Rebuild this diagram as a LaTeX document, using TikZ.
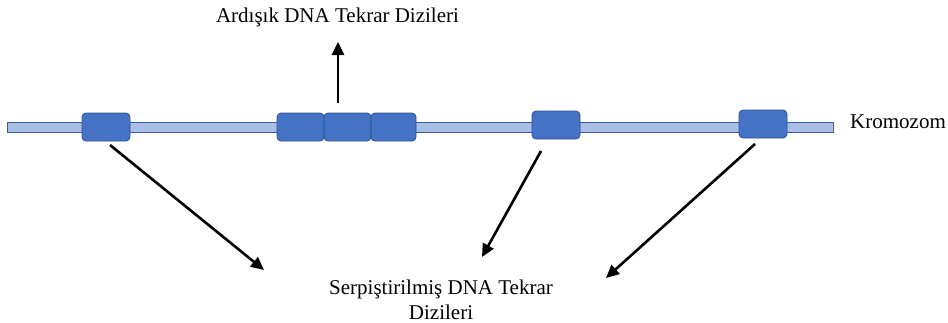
\documentclass[tikz,border=0pt]{standalone}
\usepackage{fontspec}
\setmainfont{Liberation Serif}
\usetikzlibrary{arrows.meta}
\definecolor{barfill}{HTML}{A9BFE6}
\definecolor{barline}{HTML}{3A5FA8}
\definecolor{blockfill}{HTML}{4472C4}
\definecolor{blockline}{HTML}{2F528F}
\begin{document}
\begin{tikzpicture}[x=1pt,y=-1pt,
  block/.style={draw=blockline,line width=0.8pt,fill=blockfill,rounded corners=4pt,minimum width=48pt,minimum height=28pt,inner sep=0pt},
  lbl/.style={font=\fontsize{21}{25}\selectfont,inner sep=0pt,align=center},
  arr/.style={-{Triangle[length=13pt,width=12pt]},line width=2.6pt,black}]
\useasboundingbox (0,0) rectangle (948,322);
\filldraw[fill=barfill,draw=barline,line width=0.8pt] (7,122) rectangle (833,132);
\node[block] (b1) at (106,127) {};
\node[block,minimum width=47pt] (t1) at (300.5,127) {};
\node[block,minimum width=47pt] (t2) at (347.5,127) {};
\node[block,minimum width=45pt] (t3) at (393.5,127) {};
\node[block] (b2) at (556,125) {};
\node[block] (b3) at (763,124) {};
\node[lbl,anchor=west] (krom) at (850,122) {Kromozom};
\node[lbl] (top) at (337.5,17) {Ardışık DNA Tekrar Dizileri};
\node[lbl] (bot) at (441,299.5) {Serpiştirilmiş DNA Tekrar\\Dizileri};
\coordinate (u0) at (338,103);
\coordinate (u1) at (338,42);
\draw[arr] (u0) -- (u1);
\coordinate (a0) at (110,145);
\coordinate (a1) at (264,270);
\draw[arr] (a0) -- (a1);
\coordinate (c0) at (541,151);
\coordinate (c1) at (482,257);
\draw[arr] (c0) -- (c1);
\coordinate (d0) at (755,144);
\coordinate (d1) at (606,278);
\draw[arr] (d0) -- (d1);
\end{tikzpicture}
\end{document}
